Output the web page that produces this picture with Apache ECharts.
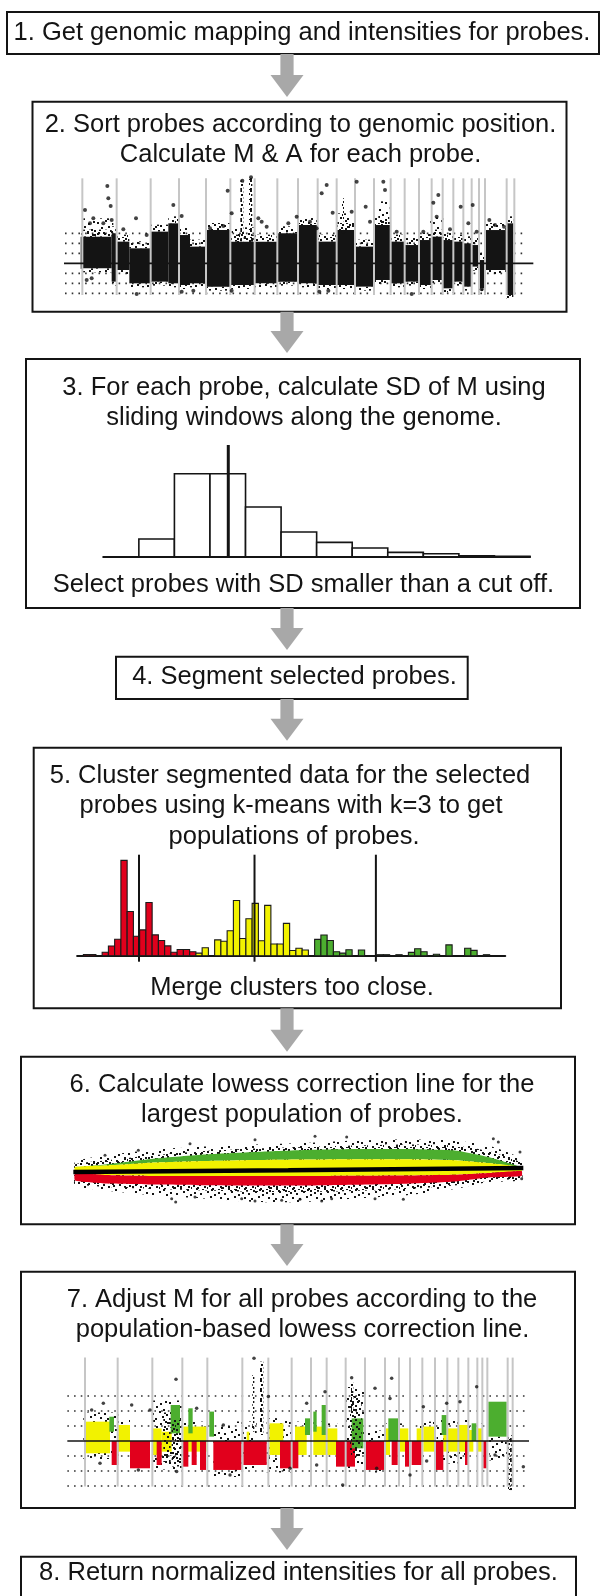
<!DOCTYPE html>
<html><head><meta charset="utf-8">
<script src="https://cdn.jsdelivr.net/npm/echarts@6/dist/echarts.min.js"></script>
<style>html,body{margin:0;padding:0;background:#fff}#c{width:600px;height:1596px}</style>
</head><body><div id="c"></div>
<script>
// ================= DATA =================
// Step 2: M along the genome (x = genomic position units, y = M)
const s2Chrom = [97,200,302,387,468,541,614,682,744,803,860,915,972,1022,1064,1107,1145,1178,1210,1240,1265,1287,1305,1370,1393];
const s2ChromSpan = [8.5, -3.17];
const s2Bands = [[92,185,2.67,-0.5],[185,200,3.0,-1.83],[200,238,2.17,-0.67],[238,302,1.5,-2.0],[302,355,3.17,-1.83],[355,387,4.0,-2.0],[387,420,2.83,-2.17],[420,468,1.67,-2.0],[468,541,3.33,-2.33],[541,614,2.17,-2.17],[614,682,2.17,-2.0],[682,744,3.0,-1.83],[744,803,3.83,-2.0],[803,860,2.17,-2.17],[860,915,3.33,-2.17],[915,972,1.67,-2.33],[972,1022,3.83,-1.67],[1022,1064,2.17,-2.0],[1064,1107,1.83,-1.83],[1107,1145,2.33,-2.17],[1145,1178,2.67,-1.67],[1178,1210,2.33,-2.5],[1210,1240,2.17,-1.83],[1240,1265,2.0,-2.33],[1265,1287,1.83,-0.33],[1287,1305,0.33,-2.5],[1305,1370,3.33,-0.67],[1370,1390,4.0,-3.17]];
const s2Spikes = [[571,580,8.3,2.2],[597,607,8.67,2.67],[876,882,6.5,4.2]];
const s2Clouds = [[985,1018,6.2,2.8],[100,190,4.5,2.6],[545,612,3.6,2.1],[860,915,5.0,3.3],[1140,1180,4.6,2.6]];
const s2Outliers = [[105,5.33],[172,7.73],[175,6.5],[182,5.73],[258,4.5],[370,5.83],[395,4.73],[533,7.27],[577,8.27],[603,8.6],[545,5.0],[625,4.5],[635,4.17],[715,4.0],[740,4.67],[830,7.83],[815,7.0],[848,5.07],[905,5.17],[920,8.17],[947,5.67],[960,4.17],[1000,8.17],[1005,7.33],[1165,6.83],[1150,6.07],[1160,4.67],[1232,5.67],[1268,5.83],[1255,4.0],[1318,4.33],[1362,3.67],[1382,3.0],[395,-2.83],[430,-2.73],[520,3.73],[545,-2.73],[808,-2.83],[835,-2.73],[1085,-3.07],[1295,-2.6],[260,-3.07],[110,-1.67],[125,-1.5],[120,4.0],[130,4.5],[160,4.0],[185,4.33],[220,3.4],[290,2.83],[480,3.5],[650,3.67],[780,4.17],[800,3.5],[880,3.17],[1040,3.17],[1120,3.17],[1200,3.4],[1280,3.17],[1335,3.83]];
const s2Rows = [3,2,1,-1,-2,-3];
const s2RowSpan = [45,1425];
const s2ZeroSpan = [42,1450];

// Step 3: histogram of sliding-window SD of M
const sdCounts = [0,17.7,83,83,49.7,24.7,14.3,8.7,4.3,3,1,0.3];
const sdCutoff = 3.515;
const sdCutoffTop = 111.7;

// Step 5: histogram of segment means, k-means clusters (r/y/g), cluster centres
const segCounts = [1.2,1.2,0,3.5,9.7,16.5,95.3,44.2,19.5,25.8,53.2,20.8,15.2,9.8,3.5,6.2,6.2,4,2.6,8,0,15.8,14.5,25,55.2,17.2,37,52.3,15,50.3,11.7,11.7,32.3,5.2,7.5,5.7,0,16.3,20.7,15.2,4,2.6,6,0,5.7,0,0,1,1,0,1,0,3.3,7,4,0,1.5,0,10.8,0,0,7.5,5.3,0,1];
const segCluster = ('rr-' + 'rrrrr' + 'rrrrr' + 'rrrrr' + 'yy-' + 'yyyyy' + 'yyyyy' + 'yyyyy' + '-gggggg-g--gg-g-ggg-g-g--gg-g').split('');
const clusterCentres = [8.9, 27.38, 46.8];
const centreSpan = [101, -6];

// Step 6: MA plot, edges of each population band (A, M)
const maA =          [60,  150,  300,  450,  600,  750,  900,  1050, 1200, 1300, 1400];
const maBlackTop =   [2.0, 3.3,  4.5,  5.1,  5.5,  5.8,  6.3,  6.5,  6.3,  5.3,  2.6];
const maInnerTop =   [1.5, 2.3,  3.4,  4.2,  4.7,  5.0,  5.3,  5.5,  5.3,  4.2,  1.8];
const maGreenTop =   [1.0, 1.5,  2.7,  3.5,  4.0,  4.4,  4.6,  4.6,  4.3,  3.0,  1.0];
const maYellowTop =  [1.0, 1.3,  1.9,  2.2,  2.4,  2.5,  2.55, 2.55, 2.35, 1.8,  1.0];
const maRedTop =     [-0.3,-0.6, -0.8, -0.8, -0.8, -0.8, -0.75,-0.7, -0.55,-0.2, 0.2];
const maRedBottom =  [-1.7,-2.3, -2.5, -2.65,-2.7, -2.7, -2.55,-2.35,-1.9, -1.1, -0.8];
const maInnerBottom= [-2.2,-3.0, -3.4, -3.7, -4.0, -4.0, -3.8, -3.4, -2.7, -1.7, -1.2];
const maBlackBottom= [-2.7,-3.7, -4.7, -5.3, -6.0, -6.0, -5.3, -4.7, -3.4, -2.0, -1.6];
const maOutliers = [[350,-5.33],[362,-6],[420,-5],[560,-5.33],[600,-5.8],[680,-5.67],[735,-5.47],[800,-5.8],[830,-5.33],[960,-5.33],[1045,-5.47],[1395,4],[1400,-1.33],[1315,6.67],[1330,6],[875,7],[780,7.13],[600,6.47],[405,5.67],[150,3.33],[250,4.33]];
const lowessA = [55, 700, 1405];
const lowessM = [0, 0.33, 0.8];

// Step 7: adjusted M along the genome, coloured by population
const s7Chrom = [105,203,307,397,472,577,655,725,783,830,887,945,1005,1047,1080,1117,1155,1192,1225,1255,1282,1297,1312,1373,1388];
const s7ChromSpan = [5.56, -3.04];
const s7Yellow = [[105,180,1.29,-0.82],[205,240,1.07,-0.71],[307,335,0.84,-0.93],[335,365,0.62,-0.71],[400,470,0.96,-0.71],[590,598,0.62,-0.93],[658,700,1.18,-0.93],[735,770,0.96,-0.93],[790,830,0.96,-0.93],[830,862,0.84,-0.93],[1005,1020,0.84,-0.93],[1050,1075,0.84,-0.71],[1100,1115,0.84,0],[1120,1155,0.96,-0.71],[1180,1225,0.84,-0.71],[1225,1255,1.07,-0.71],[1255,1270,0.73,-0.71],[1282,1297,0.84,-0.71]];
const s7Red = [[185,205,0,-1.6],[240,300,0,-1.82],[320,335,0,-1.6],[397,415,0,-1.71],[425,440,0,-1.6],[450,468,0,-1.93],[490,575,0,-1.93],[580,650,0,-1.6],[690,745,0,-1.82],[858,915,0,-1.71],[948,1002,0,-1.93],[1025,1043,0,-1.6],[1065,1080,0,-1.71],[1085,1115,0,-1.6],[1155,1180,0,-1.93],[1245,1255,0,-1.6],[1300,1310,0,-1.82]];
const s7Green = [[178,192,1.62,0.62],[362,390,2.4,0.51],[415,428,2.18,0.51],[478,492,1.96,0.29],[765,780,1.51,0.4],[790,800,1.96,0.62],[815,828,2.4,0.4],[905,940,1.51,-0.49],[1015,1045,1.51,0],[1175,1190,1.73,0.4],[1265,1280,1.18,0],[1315,1370,2.62,0.29]];
const s7Clouds = [[305,398,2.7,-1.9],[885,945,3.6,-1.9],[490,575,1.0,-2.4],[650,725,1.5,-2.1],[1318,1372,0.3,-1.3],[100,205,1.9,-1.2],[560,620,1.3,-2.0],[945,1005,0.7,-2.1],[1160,1255,1.4,-1.5]];
const s7Dense = [[340,362,1.9,-1.4],[365,395,1.4,-1.7],[900,935,3.0,-1.0]];
const s7Spikes = [[1374,1386,0.4,-3.27],[607,613,4.4,0.62],[630,640,5.29,0.4],[903,910,3.9,2.0]];
const s7Outliers = [[378,4.11],[160,2.51],[125,2.07],[245,2.4],[300,2.07],[440,2.18],[520,1.07],[612,5.51],[655,2.96],[770,2.51],[825,3.29],[905,4.22],[975,3.51],[1025,4.18],[1020,2.84],[1120,2.29],[1190,2.51],[1230,2.62],[1280,3.62],[878,-2.93],[540,-2.27],[380,-2.04],[265,-1.93],[150,-1.49],[800,-1.6],[1080,-2.27],[1130,-1.33],[1420,-1.71],[1335,-0.93],[980,-1.82],[720,-1.82]];
const s7Rows = [3,2,1,-1,-2,-3];
const s7RowSpan = [52,1437];
const s7ZeroSpan = [52,1437];

// ================= STYLE / LAYOUT =================
const RED = '#e1001c', YEL = '#f2f200', GRN = '#4cae2f', INK = '#141414', ARROW = '#a8a8a8', CHR = '#c6c6c6';
const FONT = '25.5px "Liberation Sans", Arial, sans-serif';

function makePattern(w, h, pts, s) {
  const c = document.createElement('canvas'); c.width = w; c.height = h;
  const ctx = c.getContext('2d'); ctx.fillStyle = INK;
  pts.forEach(d => ctx.fillRect(d[0], d[1], s, s));
  return { image: c, repeat: 'repeat' };
}
const sparsePat = makePattern(24, 20, [[1,2],[9,0],[16,3],[21,1],[5,7],[12,6],[19,9],[2,12],[8,13],[15,11],[22,14],[4,17],[11,18],[18,16]], 2);
const mediumPat = makePattern(16, 14, [[0,1],[6,0],[11,2],[3,5],[9,4],[14,6],[1,9],[7,8],[12,10],[4,12],[10,13],[15,11],[13,0]], 2);
const densePat = makePattern(10, 10, [[0,0],[3,1],[6,0],[8,3],[1,4],[5,4],[3,7],[7,7],[0,8],[9,9]], 2);

const boxes = [
  [7, 12, 592, 42], [32.5, 101.7, 534, 210], [26, 359, 554, 249], [116, 656.7, 351.7, 42.3],
  [33.7, 747.7, 527.3, 260.6], [21, 1056.7, 554, 167.6], [21, 1271.7, 554, 236.3], [21, 1556.7, 555, 60]
];
const arrows = [[54, 97], [311.7, 353], [608, 650], [699, 740.7], [1008.3, 1051.7], [1224.3, 1266], [1508, 1550]];
const ARROW_X = 287;
const texts = [
  ['1. Get genomic mapping and intensities for probes.', 302, 33],
  ['2. Sort probes according to genomic position.', 300.5, 125],
  ['Calculate M & A for each probe.', 300.5, 155],
  ['3. For each probe, calculate SD of M using', 304, 388],
  ['sliding windows along the genome.', 304, 418],
  ['Select probes with SD smaller than a cut off.', 303.5, 585],
  ['4. Segment selected probes.', 294.5, 677],
  ['5. Cluster segmented data for the selected', 290, 775.7],
  ['probes using k-means with k=3 to get', 291, 805.7],
  ['populations of probes.', 294, 836.7],
  ['Merge clusters too close.', 292, 988],
  ['6. Calculate lowess correction line for the', 302, 1085],
  ['largest population of probes.', 302, 1115],
  ['7. Adjust M for all probes according to the', 302, 1300],
  ['population-based lowess correction line.', 302.5, 1330],
  ['8. Return normalized intensities for all probes.', 298.5, 1573]
];

const graphic = [];
boxes.forEach(b => graphic.push({ type: 'rect', z: 0, shape: { x: b[0], y: b[1], width: b[2], height: b[3] }, style: { fill: '#fff', stroke: INK, lineWidth: 2 } }));
arrows.forEach(a => {
  const cx = ARROW_X, y0 = a[0], y1 = a[1], hh = 22, sw = 6.6, hw = 16.5;
  graphic.push({ type: 'polygon', z: 0, shape: { points: [[cx - sw, y0], [cx + sw, y0], [cx + sw, y1 - hh], [cx + hw, y1 - hh], [cx, y1], [cx - hw, y1 - hh], [cx - sw, y1 - hh]] }, style: { fill: ARROW } });
});
texts.forEach(t => graphic.push({ type: 'text', z: 1, style: { text: t[0], x: t[1], y: t[2], textAlign: 'center', textVerticalAlign: 'middle', font: FONT, fill: INK } }));

// ================= SERIES HELPERS =================
// rect per item [x0,x1,top,bottom]; optional halo (pixel fringe above/below, drawn in a pattern)
function rects(g, data, style, halo) {
  return { type: 'custom', xAxisIndex: g, yAxisIndex: g, silent: true, data, encode: { x: [0, 1], y: [2, 3] },
    renderItem: (p, api) => {
      const a = api.coord([api.value(0), api.value(2)]), b = api.coord([api.value(1), api.value(3)]);
      const w = b[0] - a[0], h = b[1] - a[1];
      if (halo) {
        const ch = [];
        if (halo.up) ch.push({ type: 'rect', shape: { x: a[0], y: a[1] - halo.up, width: w, height: halo.up }, style: { fill: halo.fill } });
        if (halo.down) ch.push({ type: 'rect', shape: { x: a[0], y: b[1], width: w, height: halo.down }, style: { fill: halo.fill } });
        return { type: 'group', children: ch };
      }
      return { type: 'rect', shape: { x: a[0], y: a[1], width: w, height: h }, style };
    } };
}
function vlines(g, xs, span, style) {
  return { type: 'custom', xAxisIndex: g, yAxisIndex: g, silent: true, data: xs.map(x => [x, span[0], span[1]]), encode: { x: 0, y: [1, 2] },
    renderItem: (p, api) => {
      const a = api.coord([api.value(0), api.value(1)]), b = api.coord([api.value(0), api.value(2)]);
      return { type: 'line', shape: { x1: a[0], y1: a[1], x2: b[0], y2: b[1] }, style };
    } };
}
function hlines(g, ys, span, style) {
  return { type: 'custom', xAxisIndex: g, yAxisIndex: g, silent: true, data: ys.map(y => [span[0], span[1], y]), encode: { x: [0, 1], y: 2 },
    renderItem: (p, api) => {
      const a = api.coord([api.value(0), api.value(2)]), b = api.coord([api.value(1), api.value(2)]);
      return { type: 'line', shape: { x1: a[0], y1: a[1], x2: b[0], y2: b[1] }, style };
    } };
}
function dots(g, data, size) {
  return { type: 'scatter', xAxisIndex: g, yAxisIndex: g, silent: true, data, symbolSize: size, itemStyle: { color: INK } };
}
function band(g, xs, up, lo, fill) {
  return { type: 'custom', xAxisIndex: g, yAxisIndex: g, silent: true, data: [[xs[0], up[0]]], encode: { x: 0, y: 1 },
    renderItem: (p, api) => {
      const pts = [];
      for (let i = 0; i < xs.length; i++) pts.push(api.coord([xs[i], up[i]]));
      for (let i = xs.length - 1; i >= 0; i--) pts.push(api.coord([xs[i], lo[i]]));
      return { type: 'polygon', shape: { points: pts, smooth: 0.15 }, style: { fill } };
    } };
}
function bars(g, items, colorOf, stroke, lw) {
  return { type: 'custom', xAxisIndex: g, yAxisIndex: g, silent: true, data: items, encode: { x: 0, y: 1 },
    renderItem: (p, api) => {
      const i = api.value(0), a = api.coord([i, api.value(1)]), b = api.coord([i + 1, 0]);
      return { type: 'rect', shape: { x: a[0], y: a[1], width: b[0] - a[0], height: b[1] - a[1] }, style: { fill: colorOf(p.dataIndex), stroke, lineWidth: lw } };
    } };
}

const dotRow = { stroke: '#333', lineWidth: 1.6, lineDash: [1.6, 5.1] };
const chrLine = { stroke: CHR, lineWidth: 2 };

const sdItems = sdCounts.map((c, i) => [i, c]).filter(d => d[1] > 0);
const segItems = segCounts.map((c, i) => [i, c, segCluster[i]]).filter(d => d[1] > 0);
const clusterColour = { r: RED, y: YEL, g: GRN };

const grids = [
  { left: 63, top: 177.33, width: 470, height: 119 },      // 0 step 2
  { left: 103.3, top: 445, width: 426.7, height: 111.7 },  // 1 step 3
  { left: 77.15, top: 855, width: 428.1, height: 106.7 },  // 2 step 5
  { left: 55, top: 1130, width: 490, height: 110 },        // 3 step 6
  { left: 63, top: 1357, width: 470, height: 133.5 }       // 4 step 7
];
const hidden = { show: false };
const xAxis = [
  { gridIndex: 0, type: 'value', min: 39, max: 1449, ...hidden },
  { gridIndex: 1, type: 'value', min: 0, max: 12, axisLine: { show: true, lineStyle: { color: INK, width: 2.2 } }, axisTick: hidden, axisLabel: hidden, splitLine: hidden },
  { gridIndex: 2, type: 'value', min: -1, max: 67.5, axisLine: { show: true, onZero: true, lineStyle: { color: INK, width: 2 } }, axisTick: hidden, axisLabel: hidden, splitLine: hidden },
  { gridIndex: 3, type: 'value', min: 0, max: 1470, ...hidden },
  { gridIndex: 4, type: 'value', min: 39, max: 1449, ...hidden }
];
const yAxis = [
  { gridIndex: 0, type: 'value', min: -3.3, max: 8.6, ...hidden },
  { gridIndex: 1, type: 'value', min: 0, max: 111.7, ...hidden },
  { gridIndex: 2, type: 'value', min: -6, max: 100.7, ...hidden },
  { gridIndex: 3, type: 'value', min: -13.6, max: 8.4, ...hidden },
  { gridIndex: 4, type: 'value', min: -3.3, max: 5.6, ...hidden }
];

const series = [
  // step 2
  hlines(0, s2Rows, s2RowSpan, dotRow),
  rects(0, s2Clouds, { fill: sparsePat }),
  rects(0, s2Bands, null, { up: 7, down: 4, fill: mediumPat }),
  rects(0, s2Bands, { fill: INK }),
  rects(0, s2Spikes, { fill: densePat }),
  dots(0, s2Outliers, 4),
  vlines(0, s2Chrom, s2ChromSpan, chrLine),
  hlines(0, [0], s2ZeroSpan, { stroke: INK, lineWidth: 1.6 }),
  // step 3
  bars(1, sdItems, () => '#fff', INK, 1.6),
  vlines(1, [sdCutoff], [sdCutoffTop, 0], { stroke: INK, lineWidth: 3 }),
  // step 5
  bars(2, segItems, i => clusterColour[segItems[i][2]], '#1a1a1a', 1.1),
  vlines(2, clusterCentres, centreSpan, { stroke: INK, lineWidth: 2 }),
  // step 6
  band(3, maA, maBlackTop, maBlackBottom, sparsePat),
  band(3, maA, maInnerTop, maInnerBottom, mediumPat),
  band(3, maA, maGreenTop, maYellowTop, GRN),
  band(3, maA, maYellowTop, maRedTop, YEL),
  band(3, maA, maRedTop, maRedBottom, RED),
  dots(3, maOutliers, 3),
  { type: 'line', xAxisIndex: 3, yAxisIndex: 3, silent: true, data: lowessA.map((a, i) => [a, lowessM[i]]), symbol: 'none', lineStyle: { color: '#000', width: 4.5 } },
  // step 7
  hlines(4, s7Rows, s7RowSpan, dotRow),
  rects(4, s7Clouds, { fill: sparsePat }),
  rects(4, s7Yellow, null, { up: 5, fill: sparsePat }),
  rects(4, s7Yellow, { fill: YEL }),
  rects(4, s7Red, { fill: RED }),
  rects(4, s7Green, { fill: GRN }),
  rects(4, s7Dense, { fill: mediumPat }),
  rects(4, s7Spikes, { fill: densePat }),
  dots(4, s7Outliers, 3.5),
  vlines(4, s7Chrom, s7ChromSpan, chrLine),
  hlines(4, [0], s7ZeroSpan, { stroke: INK, lineWidth: 1.6 })
];

const chart = echarts.init(document.getElementById('c'), null, { renderer: 'canvas' });
chart.setOption({ animation: false, backgroundColor: '#fff', grid: grids, xAxis, yAxis, series, graphic });
</script></body></html>
